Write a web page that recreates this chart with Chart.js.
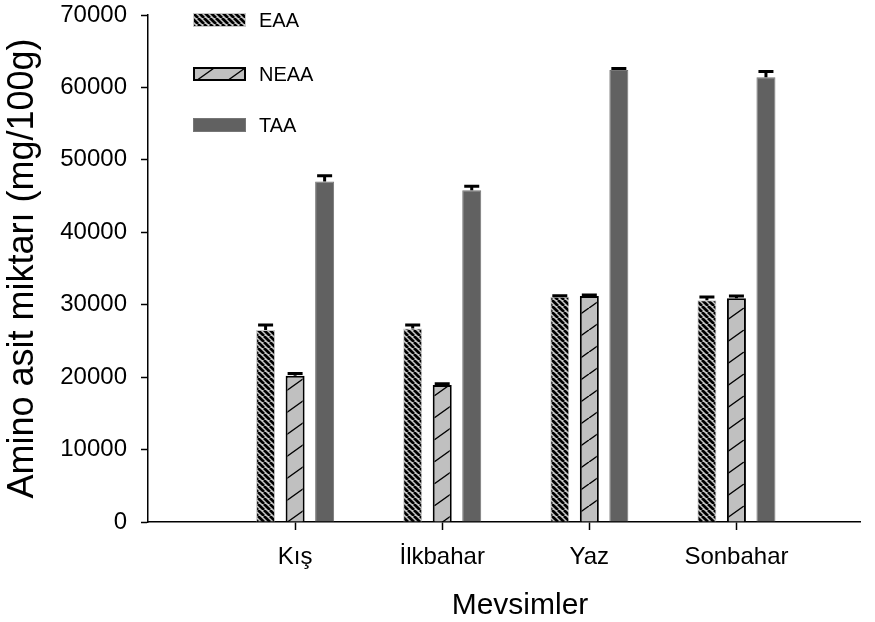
<!DOCTYPE html>
<html>
<head>
<meta charset="utf-8">
<script src="https://cdn.jsdelivr.net/npm/chart.js@4/dist/chart.umd.min.js"></script>
<style>
  html, body { margin: 0; background: #fff; }
  #kutu { width: 875px; height: 622px; }
</style>
</head>
<body>
<div id="kutu"><canvas id="grafico"></canvas></div>
<script>
const mevsimler = ['Kış', 'İlkbahar', 'Yaz', 'Sonbahar'];
const eaa = [26500, 26700, 31100, 30600];
const neaa = [20200, 18900, 31200, 30900];
const taa = [47000, 45800, 62400, 61400];
const eaaHata = [700, 500, 150, 450];
const neaaHata = [300, 200, 150, 300];
const taaHata = [800, 550, 200, 800];
const yMax = 70000;
const yAdim = 10000;

document.addEventListener('DOMContentLoaded', () => {
    const ctx = document.getElementById('grafico').getContext('2d');
    const yazi = 'Liberation Sans, Arial, sans-serif';

    // tarama desenleri
    const desen = (w, h, zemin, kalinlik, ters) => {
        const c = document.createElement('canvas');
        c.width = w; c.height = h;
        const g = c.getContext('2d');
        g.fillStyle = zemin;
        g.fillRect(0, 0, w, h);
        g.strokeStyle = '#000';
        g.lineWidth = kalinlik;
        g.beginPath();
        for (let k = -1; k <= 1; k++) {
            if (ters) { g.moveTo(k * w, 0); g.lineTo((k + 1) * w, h); }
            else { g.moveTo(k * w, h); g.lineTo((k + 1) * w, 0); }
        }
        g.stroke();
        return ctx.createPattern(c, 'repeat');
    };
    const eaaDesen = desen(6, 6, '#c6c6c6', 2.7, true);
    const neaaDesen = desen(31, 22, '#c0c0c0', 1.4, false);

    const nokta = (arr) => arr.map((v, i) => ({ x: i + 1, y: v }));
    const hatalar = [eaaHata, neaaHata, taaHata];

    const hataCubuklari = {
        id: 'hataCubuklari',
        afterDatasetsDraw(chart) {
            const { ctx, scales: { y } } = chart;
            ctx.save();
            ctx.strokeStyle = '#000';
            ctx.lineWidth = 3;
            chart.data.datasets.forEach((ds, i) => {
                chart.getDatasetMeta(i).data.forEach((bar, j) => {
                    const ust = y.getPixelForValue(ds.data[j].y + hatalar[i][j]);
                    ctx.beginPath();
                    ctx.moveTo(bar.x, bar.y);
                    ctx.lineTo(bar.x, ust);
                    ctx.moveTo(bar.x - 7.5, ust);
                    ctx.lineTo(bar.x + 7.5, ust);
                    ctx.stroke();
                });
            });
            ctx.restore();
        }
    };

    const gosterge = {
        id: 'gosterge',
        afterDraw(chart) {
            const { ctx } = chart;
            const satirlar = [20, 74, 125];
            ctx.save();
            ctx.font = '20px ' + yazi;
            ctx.textBaseline = 'middle';
            chart.data.datasets.forEach((ds, i) => {
                const yy = satirlar[i];
                ctx.fillStyle = ds.backgroundColor;
                ctx.fillRect(193, yy - 7, 53, 14);
                ctx.strokeStyle = ds.borderColor;
                ctx.lineWidth = ds.borderWidth;
                ctx.strokeRect(193 + ds.borderWidth / 2, yy - 7 + ds.borderWidth / 2, 53 - ds.borderWidth, 14 - ds.borderWidth);
                ctx.fillStyle = '#000';
                ctx.fillText(ds.label, 259, yy + 1);
            });
            ctx.restore();
        }
    };

    const xBaslik = {
        id: 'xBaslik',
        afterDraw(chart) {
            const { ctx } = chart;
            ctx.save();
            ctx.font = '30px ' + yazi;
            ctx.fillStyle = '#000';
            ctx.textAlign = 'center';
            ctx.textBaseline = 'middle';
            ctx.fillText('Mevsimler', 520, 606);
            ctx.restore();
        }
    };

    new Chart(ctx, {
        type: 'bar',
        data: {
            datasets: [
                { label: 'EAA', data: nokta(eaa), backgroundColor: eaaDesen, borderColor: '#c8c8c8', borderWidth: 1 },
                { label: 'NEAA', data: nokta(neaa), backgroundColor: neaaDesen, borderColor: '#000', borderWidth: 2 },
                { label: 'TAA', data: nokta(taa), backgroundColor: '#616161', borderColor: '#767676', borderWidth: 1 }
            ]
        },
        options: {
            responsive: true,
            maintainAspectRatio: false,
            animation: false,
            categoryPercentage: 0.602,
            barPercentage: 0.644,
            layout: { padding: { top: 15, right: 15, left: 0, bottom: 0 } },
            plugins: { legend: { display: false }, tooltip: { enabled: false } },
            scales: {
                x: {
                    type: 'linear',
                    min: 0,
                    max: 4.84,
                    offset: false,
                    afterBuildTicks: (s) => { s.ticks = mevsimler.map((m, i) => ({ value: i + 1 })); },
                    afterFit: (s) => { s.height = 100; },
                    ticks: {
                        callback: (v, i) => mevsimler[i],
                        font: { family: yazi, size: 24 },
                        color: '#000',
                        padding: 13,
                        maxRotation: 0,
                        autoSkip: false
                    },
                    grid: { offset: false, drawOnChartArea: false, tickLength: 8, tickWidth: 1.5, tickColor: '#000' },
                    border: { color: '#000', width: 1.5 }
                },
                y: {
                    min: 0,
                    max: yMax,
                    afterFit: (s) => { s.width = 148; s.paddingTop = 0; s.paddingBottom = 0; },
                    ticks: {
                        stepSize: yAdim,
                        callback: (v) => String(v),
                        font: { family: yazi, size: 24 },
                        color: '#000',
                        padding: 14
                    },
                    grid: { drawOnChartArea: false, tickLength: 7, tickWidth: 1.5, tickColor: '#000' },
                    border: { color: '#000', width: 1.5 },
                    title: {
                        display: true,
                        text: 'Amino asit miktarı (mg/100g)',
                        font: { family: yazi, size: 36 },
                        color: '#000',
                        padding: { top: 1, bottom: 0 }
                    }
                }
            }
        },
        plugins: [hataCubuklari, gosterge, xBaslik]
    });
});
</script>
</body>
</html>
